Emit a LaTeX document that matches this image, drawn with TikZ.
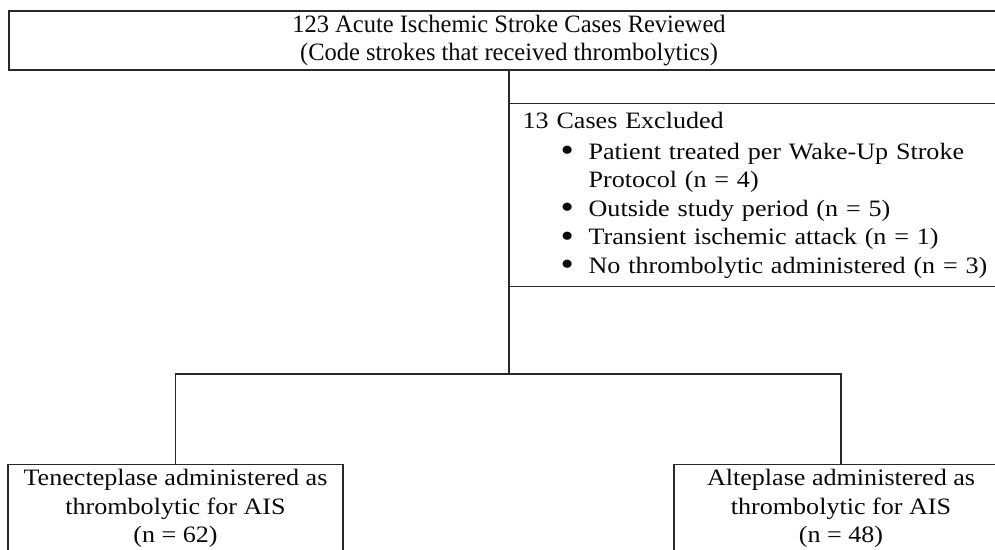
\documentclass[tikz,border=0pt]{standalone}
\usepackage{fontspec}
\setmainfont{Liberation Serif}[FakeStretch=1.11]
\newfontfamily\headfont{Liberation Serif}[FakeStretch=0.98]
\usepackage{tikz}
\usetikzlibrary{positioning}
\definecolor{flowInk}{RGB}{10,10,10}
\definecolor{flowLine}{RGB}{40,40,40}
\newcommand{\flowbullet}[1]{\hspace*{38pt}\makebox[28pt][l]{\smash{\raisebox{-2.5pt}{\scalebox{1.45}{\textbullet}}}}#1}

\begin{document}
\begin{tikzpicture}[
  x=1pt, y=-1pt,
  font=\fontsize{23.5}{28.5}\selectfont,
  flowbox/.style={draw=flowLine,line width=1.3pt,fill=white,text=flowInk,align=center,inner sep=0pt},
  exclbox/.style={flowbox,align=left,inner xsep=13pt,inner ysep=4pt,text width=480pt,minimum height=183pt},
  armbox/.style={flowbox,minimum height=88pt,anchor=north},
  link/.style={draw=flowLine,line width=1.3pt}
]
\useasboundingbox (0,0) rectangle (995,549);
\clip (0,0) rectangle (995,549);

\node[flowbox,minimum width=1000pt,minimum height=59pt,font=\headfont\fontsize{25}{28}\selectfont] (reviewed) at (509,40.5) {
  123 Acute Ischemic Stroke Cases Reviewed\\
  (Code strokes that received thrombolytics)
};

\coordinate (split) at (509,374);
\draw[link] (reviewed.south) -- (split);

\node[exclbox,anchor=north west] (excluded) at (509,103) {
  13 Cases Excluded\\[2pt]
  \flowbullet{Patient treated per Wake-Up Stroke}\\
  \hspace*{66pt}Protocol (n = 4)\\
  \flowbullet{Outside study period (n = 5)}\\
  \flowbullet{Transient ischemic attack (n = 1)}\\
  \flowbullet{No thrombolytic administered (n = 3)}
};

\node[armbox,minimum width=335pt] (tenecteplase) at (175.5,464) {
  Tenecteplase administered as\\
  thrombolytic for AIS\\
  (n = 62)
};
\node[armbox,minimum width=334pt] (alteplase) at (841,464) {
  Alteplase administered as\\
  thrombolytic for AIS\\
  (n = 48)
};

\draw[link] (tenecteplase.north) |- (split) -| (alteplase.north);

\end{tikzpicture}
\end{document}
